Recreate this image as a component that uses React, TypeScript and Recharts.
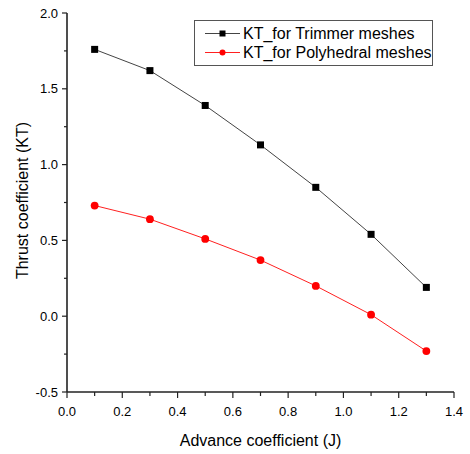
import React from 'react';
import { LineChart, Line, XAxis, YAxis, Legend, Label } from 'recharts';

const J = [0.1, 0.3, 0.5, 0.7, 0.9, 1.1, 1.3];
const ktTrimmer = [1.76, 1.62, 1.39, 1.13, 0.85, 0.54, 0.19];
const ktPolyhedral = [0.73, 0.64, 0.51, 0.37, 0.2, 0.01, -0.23];
const xTicks = [0, 0.1, 0.2, 0.3, 0.4, 0.5, 0.6, 0.7, 0.8, 0.9, 1.0, 1.1, 1.2, 1.3, 1.4];
const yTicks = [-0.5, -0.25, 0, 0.25, 0.5, 0.75, 1.0, 1.25, 1.5, 1.75, 2.0];
const seriesNames = ['KT_for Trimmer meshes', 'KT_for Polyhedral meshes'];

const data = J.map((j, i) => ({ j, trimmer: ktTrimmer[i], poly: ktPolyhedral[i] }));

const FONT = '"Liberation Sans", Arial, sans-serif';
const AXIS = '#222';
const TEXT = '#000';

const XTick = (props: any) => {
  const { x, y, payload } = props;
  const v = payload.value;
  const major = Math.round(v * 10) % 2 === 0;
  return (
    <g>
      <line x1={x} x2={x} y1={y} y2={y + (major ? 6 : 4)} stroke={AXIS} strokeWidth={1.2} />
      {major && (
        <text x={x} y={y + 24} textAnchor="middle" fontSize={13} fontFamily={FONT} fill={TEXT}>
          {v.toFixed(1)}
        </text>
      )}
    </g>
  );
};

const YTick = (props: any) => {
  const { x, y, payload } = props;
  const v = payload.value;
  const major = Math.abs(v * 2 - Math.round(v * 2)) < 1e-6;
  return (
    <g>
      <line x1={x} x2={x - (major ? 5 : 3)} y1={y} y2={y} stroke={AXIS} strokeWidth={1.2} />
      {major && (
        <text x={x - 9} y={y + 4.6} textAnchor="end" fontSize={13} fontFamily={FONT} fill={TEXT}>
          {v.toFixed(1)}
        </text>
      )}
    </g>
  );
};

const SquareDot = (props: any) => {
  const { cx, cy } = props;
  if (cx == null || cy == null) return null;
  return <rect x={cx - 3.5} y={cy - 3.5} width={7} height={7} fill="#000" />;
};

const CircleDot = (props: any) => {
  const { cx, cy } = props;
  if (cx == null || cy == null) return null;
  return <circle cx={cx} cy={cy} r={3.9} fill="#ff0000" />;
};

const LegendBox = () => (
  <div
    style={{
      border: '1px solid #555',
      width: 239,
      height: 46,
      boxSizing: 'border-box',
      background: '#fff',
      fontFamily: FONT,
      fontSize: 16,
      color: TEXT,
      paddingTop: 3,
    }}
  >
    {seriesNames.map((name, i) => (
      <div key={name} style={{ display: 'flex', alignItems: 'center', height: 19, lineHeight: '19px' }}>
        <svg width={48} height={19} style={{ flex: 'none' }}>
          <line x1={10} x2={45} y1={9.5} y2={9.5} stroke={i === 0 ? '#444' : '#ff2020'} strokeWidth={1} />
          {i === 0 ? (
            <rect x={24.5} y={6.5} width={6} height={6} fill="#000" />
          ) : (
            <circle cx={27.5} cy={9.5} r={3} fill="#ff0000" />
          )}
        </svg>
        <span style={{ whiteSpace: 'nowrap' }}>{name}</span>
      </div>
    ))}
  </div>
);

export default function App() {
  return (
    <div style={{ position: 'absolute', left: 0, top: 0, width: 470, height: 454, background: '#fff' }}>
      <LineChart width={470} height={454} data={data} margin={{ top: 13, right: 16, bottom: 0, left: 7 }}>
        <XAxis
          dataKey="j"
          type="number"
          domain={[0, 1.4]}
          ticks={xTicks}
          interval={0}
          tickSize={0}
          tickMargin={0}
          tickLine={false}
          tick={<XTick />}
          height={62}
          axisLine={{ stroke: AXIS, strokeWidth: 1.6 }}
        >
          <Label
            value="Advance coefficient (J)"
            position="insideBottom"
            offset={8}
            style={{ fontFamily: FONT, fontSize: 16, fill: TEXT }}
          />
        </XAxis>
        <XAxis
          xAxisId="top"
          orientation="top"
          type="number"
          domain={[0, 1.4]}
          tick={false}
          tickLine={false}
          height={0}
          axisLine={{ stroke: '#444', strokeWidth: 1.6 }}
        />
        <YAxis
          type="number"
          domain={[-0.5, 2.0]}
          ticks={yTicks}
          interval={0}
          tickSize={0}
          tickMargin={0}
          tickLine={false}
          tick={<YTick />}
          width={60}
          axisLine={{ stroke: AXIS, strokeWidth: 1.6 }}
        >
          <Label
            content={(p: any) => {
              const vb = p.viewBox || { x: 7, y: 13, width: 60, height: 379 };
              const cx = vb.x + 21;
              const cy = vb.y + vb.height / 2 - 2;
              return (
                <text
                  x={cx}
                  y={cy}
                  transform={`rotate(-90, ${cx}, ${cy})`}
                  textAnchor="middle"
                  fontSize={16}
                  fontFamily={FONT}
                  fill={TEXT}
                >
                  Thrust coefficient (KT)
                </text>
              );
            }}
          />
        </YAxis>
        <YAxis
          yAxisId="right"
          orientation="right"
          type="number"
          domain={[-0.5, 2.0]}
          tick={false}
          tickLine={false}
          width={0}
          axisLine={{ stroke: '#444', strokeWidth: 1.6 }}
        />
        <Legend
          layout="vertical"
          align="center"
          verticalAlign="middle"
          content={<LegendBox />}
          wrapperStyle={{ position: 'absolute', left: 194, top: 20, width: 241, height: 48 }}
        />
        <Line
          dataKey="trimmer"
          name={seriesNames[0]}
          stroke="#444"
          strokeWidth={1}
          dot={<SquareDot />}
          activeDot={false}
          isAnimationActive={false}
        />
        <Line
          dataKey="poly"
          name={seriesNames[1]}
          stroke="#ff2020"
          strokeWidth={1}
          dot={<CircleDot />}
          activeDot={false}
          isAnimationActive={false}
        />
      </LineChart>
    </div>
  );
}
